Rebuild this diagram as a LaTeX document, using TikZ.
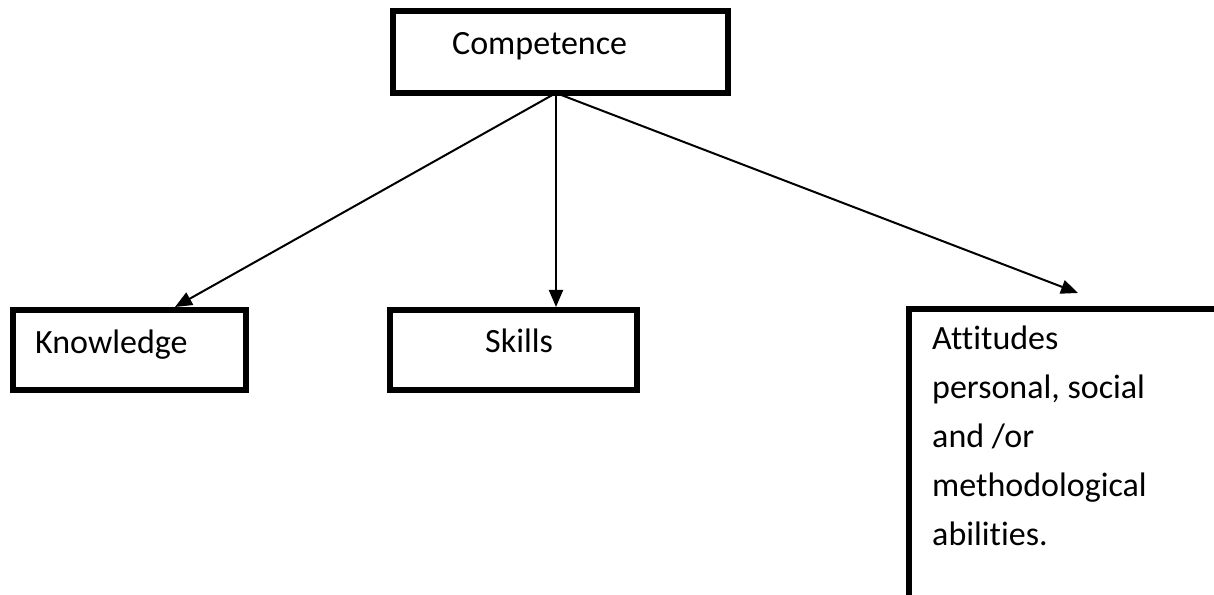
\documentclass[tikz,border=0pt]{standalone}
\usepackage{fontspec}
\setmainfont[Ligatures=NoCommon]{Carlito}
\usetikzlibrary{arrows.meta}
\begin{document}
\begin{tikzpicture}[x=1pt,y=1pt,
  box/.style={draw, line width=6pt, inner sep=0pt, outer sep=0pt, anchor=north west},
  conn/.style={line width=2pt, -{Triangle[length=17pt,width=14pt]}},
  lbl/.style={font=\fontsize{34}{49}\selectfont, inner sep=0pt, anchor=base west, align=left}]
\useasboundingbox (0,0) rectangle (1214,594);
\clip (0,0) rectangle (1214,594);
\node[box, minimum width=335pt, minimum height=82pt] (comp) at (393,583) {};
\node[box, minimum width=233pt, minimum height=80pt] (know) at (13,284) {};
\node[box, minimum width=247pt, minimum height=80pt] (skill) at (390,284) {};
\node[box, minimum width=420pt, minimum height=420pt] (att) at (909,285) {};
\node[lbl] (tcomp) at (452,539) {Competence};
\node[lbl] (tknow) at (35,240) {Knowledge};
\node[lbl] (tskill) at (485,241) {Skills};
\node[lbl, anchor=north west] (tatt) at (932,268) {Attitudes\\personal, social\\and /or\\methodological\\abilities.};
\coordinate (src) at (556,501);
\coordinate (kt) at (175,287);
\coordinate (st) at (556,287);
\coordinate (at) at (1078,301);
\draw[conn] (src) -- (kt);
\draw[conn] (src) -- (st);
\draw[conn] (src) -- (at);
\end{tikzpicture}
\end{document}
